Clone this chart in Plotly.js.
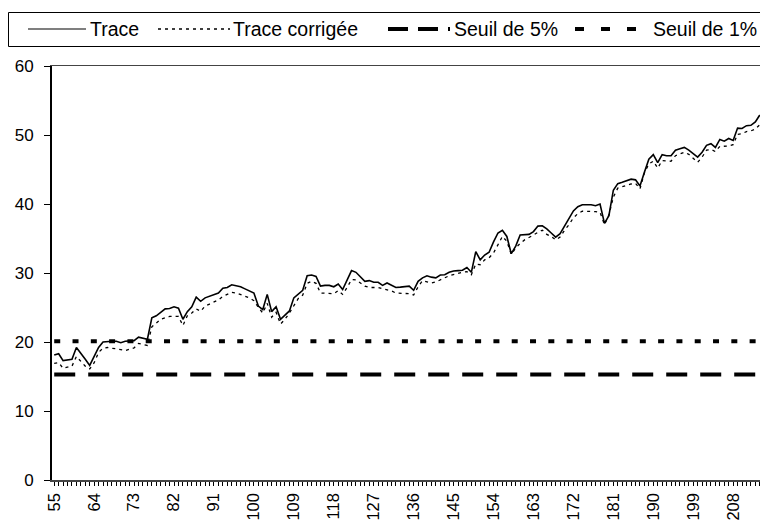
<!DOCTYPE html>
<html>
<head>
<meta charset="utf-8">
<script src="https://cdn.plot.ly/plotly-3.0.1.min.js"></script>
<style>
  html, body { margin: 0; padding: 0; background: #fff; overflow: hidden; }
  #chart { width: 760px; height: 523px; }
</style>
</head>
<body>
<div id="chart"></div>
<script>
// ---- Data ----
const categories = [
  55,56,57,58,59,60,61,62,63,64,
  65,66,67,68,69,70,71,72,73,74,
  75,76,77,78,79,80,81,82,83,84,
  85,86,87,88,89,90,91,92,93,94,
  95,96,97,98,99,100,101,102,103,104,
  105,106,107,108,109,110,111,112,113,114,
  115,116,117,118,119,120,121,122,123,124,
  125,126,127,128,129,130,131,132,133,134,
  135,136,137,138,139,140,141,142,143,144,
  145,146,147,148,149,150,151,152,153,154,
  155,156,157,158,159,160,161,162,163,164,
  165,166,167,168,169,170,171,172,173,174,
  175,176,177,178,179,180,181,182,183,184,
  185,186,187,188,189,190,191,192,193,194,
  195,196,197,198,199,200,201,202,203,204,
  205,206,207,208,209,210,211,212,213,214
];

const trace = [
  18.1,18.3,17.3,17.4,17.5,19.2,18.4,17.5,16.6,17.8,
  19.2,20.0,20.1,20.1,20.1,19.9,20.1,20.1,20.2,20.7,
  20.5,20.4,23.5,23.8,24.3,24.8,24.85,25.1,24.9,23.3,
  24.4,25.1,26.5,25.9,26.4,26.6,26.9,27.1,27.8,27.9,
  28.3,28.2,28.0,27.7,27.4,27.1,25.2,24.7,26.9,24.4,
  25.1,23.3,23.9,24.5,26.4,27.0,27.5,29.6,29.7,29.5,
  28.1,28.2,28.2,28.0,28.4,27.6,29.0,30.35,30.1,29.5,
  28.8,28.9,28.65,28.65,28.2,28.55,28.2,27.9,27.95,28.0,
  28.1,27.5,28.8,29.3,29.6,29.4,29.3,29.7,29.75,30.1,
  30.3,30.35,30.4,30.8,30.1,33.1,31.9,32.6,33.0,34.5,
  35.8,36.2,35.3,32.8,33.9,35.5,35.5,35.6,36.0,36.8,
  36.85,36.4,35.8,35.2,35.7,36.8,37.7,39.0,39.6,39.9,
  39.9,39.9,39.75,40.0,37.2,38.3,42.0,42.95,43.15,43.4,
  43.6,43.5,42.6,44.6,46.5,47.15,46.0,47.15,47.0,47.0,
  47.8,48.0,48.2,47.8,47.3,46.8,47.5,48.5,48.75,48.2,
  49.35,49.1,49.5,49.2,51.0,50.95,51.35,51.4,51.9,52.9
];

const traceCorrigee = [
  16.9,17.0,16.2,16.4,16.5,17.9,17.2,16.5,16.1,17.0,
  18.5,19.1,19.2,19.1,19.1,18.9,18.75,19.0,19.15,19.8,
  19.6,19.5,22.2,22.8,23.3,23.5,23.7,23.7,23.7,22.4,
  23.8,24.2,24.8,24.45,25.2,25.5,25.8,26.1,26.6,26.9,
  27.2,27.1,26.9,26.7,26.4,26.0,25.0,24.2,25.6,23.6,
  24.3,22.6,23.3,24.2,25.3,26.3,26.8,28.5,28.8,28.5,
  27.1,27.1,27.1,27.0,27.45,26.9,27.9,29.05,29.0,28.6,
  28.1,27.9,27.9,27.9,27.7,27.6,27.4,27.1,27.1,27.1,
  27.0,26.8,28.0,28.9,28.7,28.55,28.7,29.05,29.3,29.6,
  29.8,29.9,30.1,30.2,29.75,31.3,31.2,31.9,32.2,32.9,
  34.2,35.3,34.6,32.7,33.6,34.3,34.8,35.1,35.5,35.9,
  36.2,35.6,35.3,34.8,35.2,36.2,37.0,38.0,38.6,38.95,
  38.95,38.95,38.9,38.8,37.0,38.4,41.0,42.3,42.5,42.8,
  42.9,43.0,42.2,44.5,45.8,46.2,45.2,46.3,46.2,46.2,
  47.0,47.3,47.5,47.2,46.6,46.05,46.8,47.8,47.9,47.6,
  48.35,48.35,48.4,48.6,50.1,50.2,50.5,50.6,50.85,51.5
];

const seuil5 = 15.3;   // Seuil de 5%
const seuil1 = 20.1;   // Seuil de 1%

const seriesNames = ["Trace", "Trace corrigée", "Seuil de 5%", "Seuil de 1%"];

const xTickVals = [55,64,73,82,91,100,109,118,127,136,145,154,163,172,181,190,199,208];
const xTickText = ["55","64","73","82","91","100","109","118","127","136","145","154","163","172","181","190","199","208"];
const yTickVals = [0,10,20,30,40,50,60];

// ---- Geometry helpers (pixel -> paper) ----
const W = 760, H = 523;
const M = { l: 52, r: 0, t: 66, b: 43 };
const PW = W - M.l - M.r, PH = H - M.t - M.b;
const px = v => (v - M.l) / PW;
const py = v => (H - M.b - v) / PH;

const FONT = "Liberation Sans, Arial, sans-serif";

const data = [
  { x: categories, y: trace, name: seriesNames[0], type: "scatter", mode: "lines",
    line: { color: "#000", width: 1.6 }, showlegend: false },
  { x: categories, y: traceCorrigee, name: seriesNames[1], type: "scatter", mode: "lines",
    line: { color: "#000", width: 1.3, dash: "3px,4px" }, showlegend: false },
  { x: categories, y: categories.map(() => seuil5), name: seriesNames[2], type: "scatter", mode: "lines",
    line: { color: "#000", width: 4, dash: "21px,13px" }, showlegend: false },
  { x: categories, y: categories.map(() => seuil1), name: seriesNames[3], type: "scatter", mode: "lines",
    line: { color: "#000", width: 4, dash: "6px,12.3px" }, showlegend: false }
];

// ---- Custom legend (box, samples, labels) ----
const legY = 29;
const legendSamples = [
  { x0: 28, x1: 86, width: 1.1, dash: "solid" },
  { x0: 158, x1: 230, width: 1.3, dash: "3px,4px" },
  { x0: 388, x1: 450, width: 4, dash: "20px,10px" },
  { x0: 575, x1: 651, width: 4, dash: "9px,17px" }
];
const legendTextX = [88, 231, 452, 651];

const shapes = [
  { type: "rect", xref: "paper", yref: "paper",
    x0: px(8.5), x1: px(790), y0: py(12.5), y1: py(46.5),
    line: { color: "#000", width: 1 }, fillcolor: "rgba(0,0,0,0)", layer: "above" }
];
legendSamples.forEach(s => {
  shapes.push({ type: "line", xref: "paper", yref: "paper",
    x0: px(s.x0), x1: px(s.x1), y0: py(legY), y1: py(legY),
    line: { color: "#000", width: s.width, dash: s.dash } });
});
const annotations = seriesNames.map((n, i) => ({
  text: n, xref: "paper", yref: "paper", x: px(legendTextX[i]), y: py(legY),
  xanchor: "left", yanchor: "middle", showarrow: false,
  font: { family: FONT, size: 19.5, color: "#000" }
}));

const layout = {
  width: W, height: H,
  margin: M,
  paper_bgcolor: "#fff", plot_bgcolor: "#fff",
  showlegend: false,
  font: { family: FONT, color: "#000" },
  xaxis: {
    range: [54.5, 214.05],
    tickmode: "array", tickvals: xTickVals, ticktext: xTickText,
    tickangle: -90,
    tickfont: { family: FONT, size: 16.5, color: "#000" },
    ticks: "outside", ticklen: 4, tickwidth: 1, tickcolor: "#000",
    ticklabelstandoff: 1,
    minor: { dtick: 1, tick0: 55, ticks: "outside", ticklen: 4, tickwidth: 1, tickcolor: "#000" },
    showline: true, linecolor: "#444", linewidth: 1.5, mirror: true,
    showgrid: false, zeroline: false
  },
  yaxis: {
    range: [0, 60],
    tickmode: "array", tickvals: yTickVals,
    tickfont: { family: FONT, size: 17, color: "#000" },
    ticks: "outside", ticklen: 6, tickwidth: 1, tickcolor: "#000",
    ticklabelstandoff: 7,
    showline: true, linecolor: "#000", linewidth: 2,
    showgrid: false, zeroline: false
  },
  shapes: shapes,
  annotations: annotations
};

Plotly.newPlot("chart", data, layout, { displayModeBar: false, staticPlot: true });
</script>
</body>
</html>
